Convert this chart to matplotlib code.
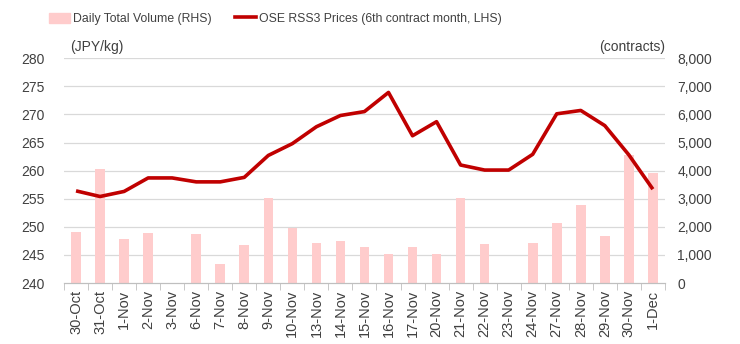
import matplotlib
matplotlib.use("Agg")
import matplotlib.pyplot as plt
import matplotlib.patches as mpatches
import matplotlib.lines as mlines
import numpy as np

plt.rcParams["font.family"] = ["Liberation Sans", "DejaVu Sans"]

# ── Data ──────────────────────────────────────────────────────────────────────
dates = ["30-Oct", "31-Oct", "1-Nov", "2-Nov", "3-Nov", "6-Nov", "7-Nov", "8-Nov",
         "9-Nov", "10-Nov", "13-Nov", "14-Nov", "15-Nov", "16-Nov", "17-Nov",
         "20-Nov", "21-Nov", "22-Nov", "23-Nov", "24-Nov", "27-Nov", "28-Nov",
         "29-Nov", "30-Nov", "1-Dec"]
price = [256.4, 255.4, 256.3, 258.7, 258.7, 258.0, 258.0, 258.8, 262.7, 264.8,
         267.8, 269.8, 270.5, 273.9, 266.2, 268.7, 261.0, 260.1, 260.1, 262.9,
         270.1, 270.7, 268.0, 262.8, 256.7]
volume = [1820, 4050, 1570, 1790, 0, 1740, 690, 1370, 3010, 1960,
          1430, 1500, 1280, 1020, 1280, 1040, 3010, 1380, 0, 1440,
          2130, 2770, 1680, 4570, 3910]

LINE_C = "#c00000"
BAR_C = "#ffcccc"
GRID_C = "#d9d9d9"
TEXT_C = "#404040"

x = np.arange(len(dates))

fig = plt.figure(figsize=(7.4, 3.44), dpi=100)
ax = fig.add_axes([0.0865, 0.177, 0.812, 0.654])
ax2 = ax.twinx()

# bars on the secondary axis, drawn behind the price line
ax2.bar(x, volume, width=0.4, color=BAR_C, zorder=1)
ax2.set_ylim(0, 8000)
ax2.set_yticks(np.arange(0, 8001, 1000))
ax2.set_yticklabels([f"{v:,}" for v in range(0, 8001, 1000)])

ax.set_zorder(ax2.get_zorder() + 1)
ax.patch.set_visible(False)
ax.plot(x, price, color=LINE_C, linewidth=2.6, solid_joinstyle="round",
        solid_capstyle="butt", zorder=3)
ax.set_ylim(240, 280)
ax.set_yticks(np.arange(240, 281, 5))
ax.set_xlim(-0.5, len(dates) - 0.5)

# horizontal gridlines drawn on the bar axis so they sit under the bars
for v in range(1000, 8001, 1000):
    ax2.axhline(v, color=GRID_C, linewidth=0.9, zorder=0)

for a in (ax, ax2):
    for s in ("left", "right", "top"):
        a.spines[s].set_visible(False)
    a.spines["bottom"].set_color("#bfbfbf")
    a.tick_params(axis="y", length=0, labelsize=10, colors=TEXT_C)

ax.tick_params(axis="y", pad=14)
ax2.tick_params(axis="y", pad=9)

ax.set_xticks(x)
ax.set_xticklabels(dates, rotation=90, fontsize=10.5, color=TEXT_C)
ax.set_xticks(np.arange(-0.5, len(dates)), minor=True)
ax.tick_params(axis="x", which="major", length=0, pad=5)
ax.tick_params(axis="x", which="minor", length=5, color="#bfbfbf")
ax2.tick_params(axis="x", length=0)

ax.text(0.01, 1.02, "(JPY/kg)", transform=ax.transAxes, fontsize=10,
        color=TEXT_C, ha="left", va="bottom")
ax.text(1.0, 1.02, "(contracts)", transform=ax.transAxes, fontsize=10,
        color=TEXT_C, ha="right", va="bottom")

handles = [
    mpatches.Patch(color=BAR_C, label="Daily Total Volume (RHS)"),
    mlines.Line2D([], [], color=LINE_C, linewidth=2.6,
                  label="OSE RSS3 Prices (6th contract month, LHS)"),
]
fig.legend(handles=handles, loc="center", bbox_to_anchor=(0.372, 0.945),
           ncol=2, frameon=False, fontsize=8.8, handlelength=1.7,
           handleheight=0.9, handletextpad=0.25, columnspacing=1.9,
           labelcolor=TEXT_C)

fig.savefig("out.png", dpi=100)
